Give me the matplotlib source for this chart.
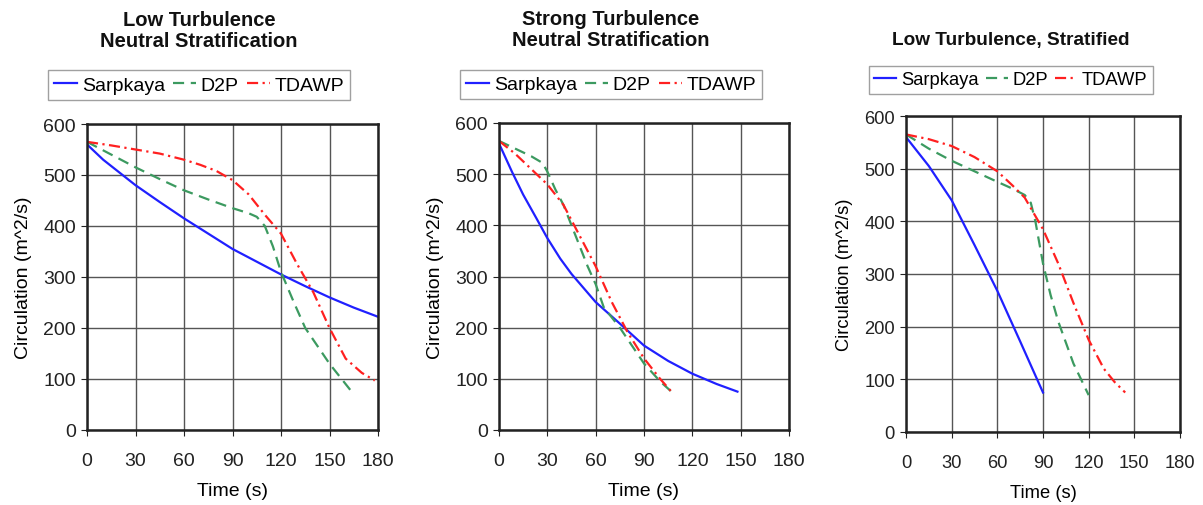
import matplotlib

matplotlib.use("Agg")
import matplotlib.pyplot as plt

plt.rcParams["font.family"] = ["Liberation Sans", "DejaVu Sans"]

TITLES = ["Low Turbulence\nNeutral Stratification",
          "Strong Turbulence\nNeutral Stratification",
          "Low Turbulence, Stratified"]

# panel 1: low turbulence, neutral
p1_sar_t = [0, 10, 20, 30, 45, 60, 75, 90, 105, 120, 135, 150, 165, 180]
p1_sar_c = [560, 530, 505, 480, 447, 415, 385, 355, 330, 305, 282, 260, 240, 222]
p1_d2p_t = [0, 15, 30, 45, 60, 75, 90, 100, 105, 110, 115, 120, 128, 135, 150, 165]
p1_d2p_c = [565, 540, 515, 492, 470, 452, 435, 425, 418, 400, 360, 310, 250, 200, 130, 70]
p1_tda_t = [0, 15, 30, 45, 60, 70, 80, 90, 100, 110, 120, 130, 140, 150, 160, 170, 178]
p1_tda_c = [565, 558, 550, 542, 530, 520, 508, 490, 462, 422, 385, 325, 270, 200, 140, 112, 97]

# panel 2: strong turbulence, neutral
p2_sar_t = [0, 8, 15, 23, 30, 38, 45, 60, 75, 90, 105, 120, 135, 148]
p2_sar_c = [560, 505, 460, 415, 375, 335, 305, 250, 208, 165, 135, 110, 90, 75]
p2_d2p_t = [0, 10, 20, 27, 30, 35, 40, 45, 50, 55, 60, 65, 75, 90, 100, 107]
p2_d2p_c = [565, 550, 535, 522, 505, 470, 440, 400, 360, 320, 285, 240, 200, 130, 95, 75]
p2_tda_t = [0, 10, 20, 30, 40, 50, 60, 70, 80, 90, 100, 107]
p2_tda_c = [565, 540, 510, 480, 440, 380, 320, 250, 190, 140, 100, 75]

# panel 3: low turbulence, stratified
p3_sar_t = [0, 15, 30, 45, 60, 75, 90]
p3_sar_c = [560, 505, 440, 355, 268, 172, 75]
p3_d2p_t = [0, 15, 30, 45, 60, 70, 78, 82, 85, 90, 95, 100, 110, 120]
p3_d2p_c = [565, 538, 515, 495, 475, 462, 450, 435, 400, 320, 260, 210, 130, 70]
p3_tda_t = [0, 15, 30, 45, 60, 70, 78, 85, 90, 100, 110, 120, 130, 137, 144]
p3_tda_c = [565, 556, 543, 522, 495, 468, 445, 410, 385, 320, 245, 175, 120, 95, 75]

PANELS = [
    (p1_sar_t, p1_sar_c, p1_d2p_t, p1_d2p_c, p1_tda_t, p1_tda_c),
    (p2_sar_t, p2_sar_c, p2_d2p_t, p2_d2p_c, p2_tda_t, p2_tda_c),
    (p3_sar_t, p3_sar_c, p3_d2p_t, p3_d2p_c, p3_tda_t, p3_tda_c),
]

C_SAR = "#2020ff"
C_D2P = "#3c9a60"
C_TDA = "#ff2020"

W, H = 1203, 506
fig = plt.figure(figsize=(W / 100, H / 100), dpi=100)

# layout in pixels
BOXES = [(87, 378, 125, 431), (499, 789, 124, 431), (906, 1180, 117, 433)]
HEAD_X = [199, 611, 1011]
TITLE_Y = [31, 30, 40]
LEG_Y = [86, 85.5, 80.5]
FS = [14, 14, 13.2]

for i, (box, data) in enumerate(zip(BOXES, PANELS)):
    x0, x1, yt, yb = box
    fs = FS[i]
    ax = fig.add_axes([x0 / W, 1 - yb / H, (x1 - x0) / W, (yb - yt) / H])
    st, sc, dt, dc, tt, tc = data
    l1, = ax.plot(st, sc, color=C_SAR, lw=1.6, label="Sarpkaya")
    l2, = ax.plot(dt, dc, color=C_D2P, lw=1.6, ls=(0, (5, 3)), label="D2P")
    l3, = ax.plot(tt, tc, color=C_TDA, lw=1.6, ls=(0, (5, 2, 1, 2)), label="TDAWP")
    ax.set_xlim(0, 180)
    ax.set_ylim(0, 600)
    ax.set_xticks(range(0, 181, 30))
    ax.set_yticks(range(0, 601, 100))
    ax.grid(True, color="#555555", lw=1.0)
    ax.set_axisbelow(True)
    for s in ax.spines.values():
        s.set_linewidth(1.8)
        s.set_color("#222222")
    ax.tick_params(direction="out", length=4, labelsize=fs, colors="#222222")
    ax.tick_params(axis="x", pad=12)
    ax.tick_params(axis="y", pad=4)
    ax.set_xlabel("Time (s)", fontsize=fs, labelpad=9)
    ax.set_ylabel("Circulation (m^2/s)", fontsize=fs, labelpad=8)

    hx = HEAD_X[i] / W
    fig.text(hx, 1 - TITLE_Y[i] / H, TITLES[i],
             ha="center", va="center", fontsize=fs + 0.5, fontweight="bold",
             linespacing=1.15, color="#111111")
    fig.legend(handles=[l1, l2, l3], loc="center",
               bbox_to_anchor=(hx, 1 - LEG_Y[i] / H),
               ncol=3, fontsize=fs, frameon=True, fancybox=False,
               edgecolor="#888888", handlelength=1.2, handletextpad=0.25,
               columnspacing=0.4, borderpad=0.3, borderaxespad=0)

fig.savefig("out.png", dpi=100)
